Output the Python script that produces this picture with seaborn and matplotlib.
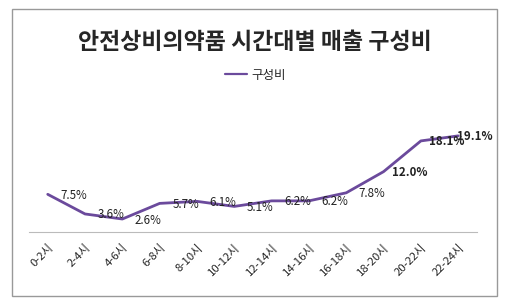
import pandas as pd
import numpy as np
import matplotlib.pyplot as plt
import matplotlib.patches as patches
import seaborn as sns

# ── Data ───────────────────────────────────────────────────
hours  = ["0-2시", "2-4시", "4-6시", "6-8시", "8-10시", "10-12시",
          "12-14시", "14-16시", "16-18시", "18-20시", "20-22시", "22-24시"]
shares = [7.5, 3.6, 2.6, 5.7, 6.1, 5.1, 6.2, 6.2, 7.8, 12.0, 18.1, 19.1]
bold_from = 9   # last three labels are bold

df = pd.DataFrame({"시간대": hours, "구성비": shares})

sns.set_style("white")
plt.rcParams["font.family"] = ["Noto Sans CJK KR", "DejaVu Sans"]

fig = plt.figure(figsize=(5.1, 3.05), dpi=100)
ax = fig.add_axes([0.057, 0.239, 0.878, 0.413])

line_color = "#6b4a9c"
sns.lineplot(data=df, x="시간대", y="구성비", ax=ax, color=line_color,
             lw=2, sort=False, label="구성비")

# data labels (Excel style, placed to the right of each point)
for i, v in enumerate(shares):
    dx = 17 if i == len(shares) - 1 else 26
    ax.annotate(f"{v:.1f}%", (i, v), xytext=(dx, -1), textcoords="offset pixels",
                ha="center", va="center", fontsize=8.3,
                fontweight="bold" if i >= bold_from else "normal", color="#222222")

ax.set_xlim(-0.5, len(hours) - 0.5)
ax.set_ylim(0, 25)
ax.set_yticks([])
ax.set_xlabel("")
ax.set_ylabel("")
for s in ["top", "right", "left"]:
    ax.spines[s].set_visible(False)
ax.spines["bottom"].set_color("#bbbbbb")
ax.tick_params(axis="x", length=0, pad=7, labelsize=8.2)
plt.setp(ax.get_xticklabels(), rotation=45, ha="right", rotation_mode="anchor")

# legend at top center
leg = ax.legend(loc="center", bbox_to_anchor=(0.5, 0.754), bbox_transform=fig.transFigure,
                frameon=False, fontsize=9, handlelength=1.8, handletextpad=0.3)
leg.get_lines()[0].set_linewidth(1.6)

fig.suptitle("안전상비의약품 시간대별 매출 구성비", fontsize=16.5, fontweight="bold",
             y=0.86, va="center")

# outer chart border
fig.patches.append(patches.Rectangle((12 / 510, 9 / 305), 485 / 510, 287 / 305,
                                     transform=fig.transFigure, fill=False,
                                     edgecolor="#999999", lw=1))

plt.savefig("out.png", dpi=100)
